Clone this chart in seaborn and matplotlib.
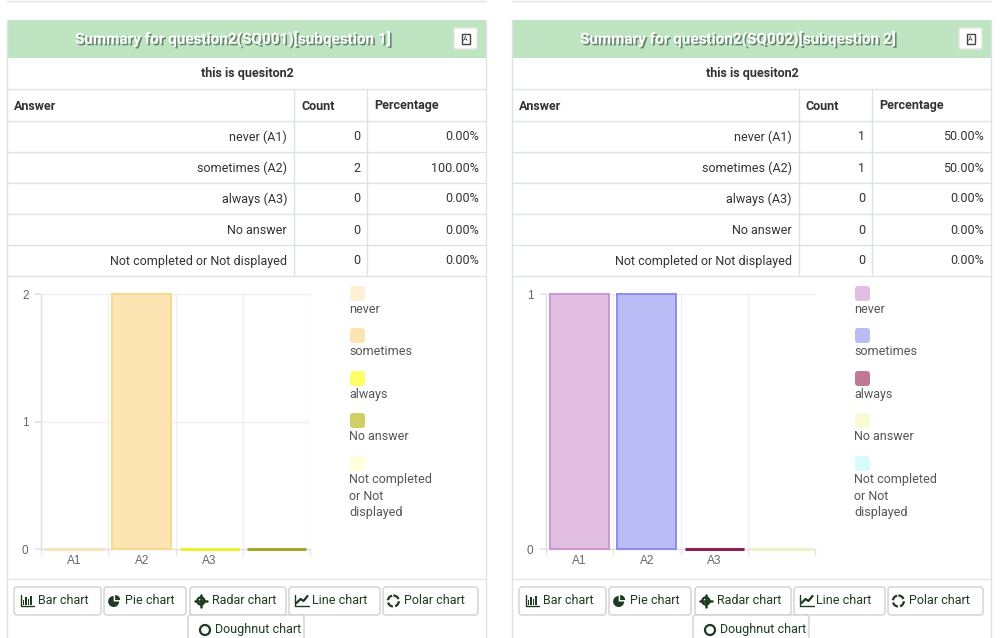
import numpy as np
import pandas as pd
import matplotlib
matplotlib.use("Agg")
import matplotlib.pyplot as plt
import matplotlib.patheffects as pe
from matplotlib.patches import Rectangle, FancyBboxPatch, Wedge, Circle
import seaborn as sns

# data
titles = ["Summary for question2(SQ001)[subqestion 1]",
          "Summary for question2(SQ002)[subqestion 2]"]
subtitle = "this is quesiton2"
answers = ["never (A1)", "sometimes (A2)", "always (A3)", "No answer",
           "Not completed or Not displayed"]
legend_labels = ["never", "sometimes", "always", "No answer",
                 "Not completed\nor Not\ndisplayed"]
bar_codes = ["A1", "A2", "A3", ""]
counts_q1 = [0, 2, 0, 0, 0]
pct_q1 = [0.0, 100.0, 0.0, 0.0, 0.0]
counts_q2 = [1, 1, 0, 0, 0]
pct_q2 = [50.0, 50.0, 0.0, 0.0, 0.0]
fills_q1 = ["#fdf0d6", "#fde5b3", "#ffff66", "#cfcf64", "#ffffdc"]
edges_q1 = ["#fae2bd", "#f9d98e", "#eeee33", "#a5a532", "#f5f5c0"]
fills_q2 = ["#e3bee3", "#bbbbf5", "#c07896", "#fafad7", "#d7fafa"]
edges_q2 = ["#cd96d2", "#8c8cf0", "#8c1e50", "#f0f0c4", "#c0f0f0"]
buttons = ["Bar chart", "Pie chart", "Radar chart", "Line chart", "Polar chart"]
button_x = [(7, 94), (97, 179), (183, 279), (282, 373), (376, 471)]

sns.set_theme(style="white")
plt.rcParams['font.family'] = ['Roboto', 'DejaVu Sans']

W, H = 1000, 638
fig = plt.figure(figsize=(W / 100, H / 100), dpi=100)
page = fig.add_axes([0, 0, 1, 1])
page.set_xlim(0, W)
page.set_ylim(H, 0)
page.axis("off")

LINE = "#dee2e6"
TXT = "#333333"
GREEN = "#bfe4c1"
BTN_TXT = "#1d3b20"


def hline(x0, x1, y, color=LINE):
    page.plot([x0, x1], [y, y], color=color, lw=1)


def vline(x, y0, y1, color=LINE):
    page.plot([x, x], [y0, y1], color=color, lw=1)


def icon(kind, x, y):
    c = BTN_TXT
    if kind == 0:
        for i, h in enumerate([5, 8, 6, 9]):
            page.add_patch(Rectangle((x + 2 + i * 2.6, y + 4 - h), 1.6, h, color=c, lw=0))
        page.plot([x, x, x + 13], [y - 6, y + 5, y + 5], color=c, lw=1)
    elif kind == 1:
        # y axis is flipped on the page, so angles run clockwise
        page.add_patch(Wedge((x + 5.5, y + 0.5), 5.5, 0, 270, color=c, lw=0))
        page.add_patch(Wedge((x + 7, y - 1), 5, 270, 360, color=c, lw=0))
    elif kind == 2:
        page.add_patch(Circle((x + 6, y), 3.6, fill=False, ec=c, lw=1.6))
        for dx, dy in [(0, -6), (0, 6), (-6, 0), (6, 0)]:
            page.plot([x + 6, x + 6 + dx], [y, y + dy], color=c, lw=1.8)
    elif kind == 3:
        page.plot([x, x, x + 14], [y - 6, y + 5, y + 5], color=c, lw=1)
        page.plot([x + 2, x + 6, x + 9, x + 13], [y + 2, y - 2, y, y - 5], color=c, lw=1.6)
    elif kind == 4:
        page.add_patch(Circle((x + 6, y), 5.5, fill=False, ec=c, lw=1.6, ls=(0, (3, 1))))
    else:
        page.add_patch(Circle((x + 6, y), 5, fill=False, ec=c, lw=1.6))


def draw_panel(x0, title, counts, pcts, fills, edges):
    x1 = x0 + 479
    # bottom edge of the panel above
    hline(x0, x1, 1)
    # header
    page.add_patch(Rectangle((x0, 20), 479, 38, color=GREEN, lw=0))
    page.text(x0 + 226, 39, title, ha="center", va="center", color="white",
              fontsize=11, fontweight="bold",
              path_effects=[pe.withSimplePatchShadow(offset=(1.2, -1.2), shadow_rgbFace="#50705a", alpha=0.8)])
    page.add_patch(FancyBboxPatch((x0 + 447, 28), 23, 21, boxstyle="round,pad=0,rounding_size=2",
                                  fc="white", ec="#e6e6e6", lw=1))
    page.add_patch(Rectangle((x0 + 454.5, 33.5), 8, 10, fill=False, ec="#444", lw=1))
    page.text(x0 + 458.5, 39.5, "A", ha="center", va="center", fontsize=5, color="#444")
    # borders
    vline(x0, 20, H)
    vline(x1, 20, H)
    # table
    page.text(x0 + 240, 74, subtitle, ha="center", va="center", fontsize=9,
              fontweight="bold", color=TXT)
    hline(x0, x1, 89)
    for hx, head in [(7, "Answer"), (294, "Count"), (367, "Percentage")]:
        page.text(x0 + hx, 106, head, ha="left", va="center", fontsize=9, fontweight="bold", color=TXT)
    vline(x0 + 287, 89, 276)
    vline(x0 + 360, 89, 276)
    for i, (a, c, p) in enumerate(zip(answers, counts, pcts)):
        top = 121 + i * 31
        hline(x0, x1, top)
        yc = top + 16
        page.text(x0 + 280, yc, a, ha="right", va="center", fontsize=9, color=TXT)
        page.text(x0 + 353, yc, str(c), ha="right", va="center", fontsize=9, color=TXT)
        page.text(x0 + 472, yc, f"{p:.2f}%", ha="right", va="center", fontsize=9, color=TXT)
    hline(x0, x1, 276)

    # bar chart
    ymax = max(counts)
    ax = fig.add_axes([(x0 + 34) / W, 1 - 549 / H, 269 / W, 255 / H])
    df = pd.DataFrame({"code": bar_codes, "count": counts[:4]})
    sns.barplot(data=df, x="code", y="count", hue="code",
                palette=dict(zip(bar_codes, fills[:4])), width=0.88,
                saturation=1, legend=False, ax=ax)
    bars = sorted(ax.patches, key=lambda b: b.get_x())
    for b, e, c in zip(bars, edges, counts):
        b.set_edgecolor(e)
        b.set_linewidth(2.2 if c == 0 else 1.4)
        b.set_clip_on(False)
        b.set_zorder(3)
    ax.set_xlim(-0.5, 3.5)
    ax.set_ylim(0, ymax)
    ax.set_yticks(range(0, ymax + 1))
    ax.set_xticks(np.arange(-0.5, 4.0, 1.0), minor=True)
    ax.set_xlabel("")
    ax.set_ylabel("")
    ax.grid(which="minor", axis="x", color="#efefef", lw=1)
    ax.grid(which="major", axis="y", color="#efefef", lw=1)
    ax.grid(which="major", axis="x", visible=False)
    ax.tick_params(axis="x", which="major", length=0, pad=4, labelsize=8.5, labelcolor="#666666")
    ax.tick_params(axis="x", which="minor", length=4, color="#e4e4e4", bottom=True)
    ax.tick_params(axis="y", length=4, color="#e4e4e4", pad=5, labelsize=8.5, labelcolor="#666666", left=True)
    for lab in ax.get_xticklabels() + ax.get_yticklabels():
        lab.set_family(["Liberation Sans", "DejaVu Sans"])
    for s in ["top", "right"]:
        ax.spines[s].set_visible(False)
    for s in ["left", "bottom"]:
        ax.spines[s].set_color("#e0e0e0")
        ax.spines[s].set_linewidth(1)
    ax.set_facecolor("none")

    # legend
    text_y = [303, 345, 388, 430, 473]
    for i, (lab, f) in enumerate(zip(legend_labels, fills)):
        ty = text_y[i]
        page.add_patch(FancyBboxPatch((x0 + 343, ty - 17), 15, 15, boxstyle="round,pad=0,rounding_size=3",
                                      fc=f, ec="none"))
        page.text(x0 + 342, ty, lab, ha="left", va="top", fontsize=9, color="#555555",
                  linespacing=1.35)

    # buttons
    hline(x0, x1, 579, color="#e6e6e6")
    for k, (lab, (bx0, bx1)) in enumerate(zip(buttons, button_x)):
        page.add_patch(FancyBboxPatch((x0 + bx0, 587), bx1 - bx0, 28, boxstyle="round,pad=0,rounding_size=3",
                                      fc="white", ec="#d0d0d0", lw=1))
        wtxt = len(lab) * 6.3
        start = x0 + (bx0 + bx1) / 2 - (wtxt + 17) / 2
        icon(k, start, 601)
        page.text(start + 17, 601, lab, ha="left", va="center", fontsize=9, color=BTN_TXT)
    page.add_patch(FancyBboxPatch((x0 + 181, 615), 116, 30, boxstyle="round,pad=0,rounding_size=3",
                                  fc="white", ec="#d0d0d0", lw=1))
    icon(5, x0 + 192, 630)
    page.text(x0 + 208, 630, "Doughnut chart", ha="left", va="center", fontsize=9, color=BTN_TXT)


draw_panel(7, titles[0], counts_q1, pct_q1, fills_q1, edges_q1)
draw_panel(512, titles[1], counts_q2, pct_q2, fills_q2, edges_q2)

fig.savefig("out.png", dpi=100)
